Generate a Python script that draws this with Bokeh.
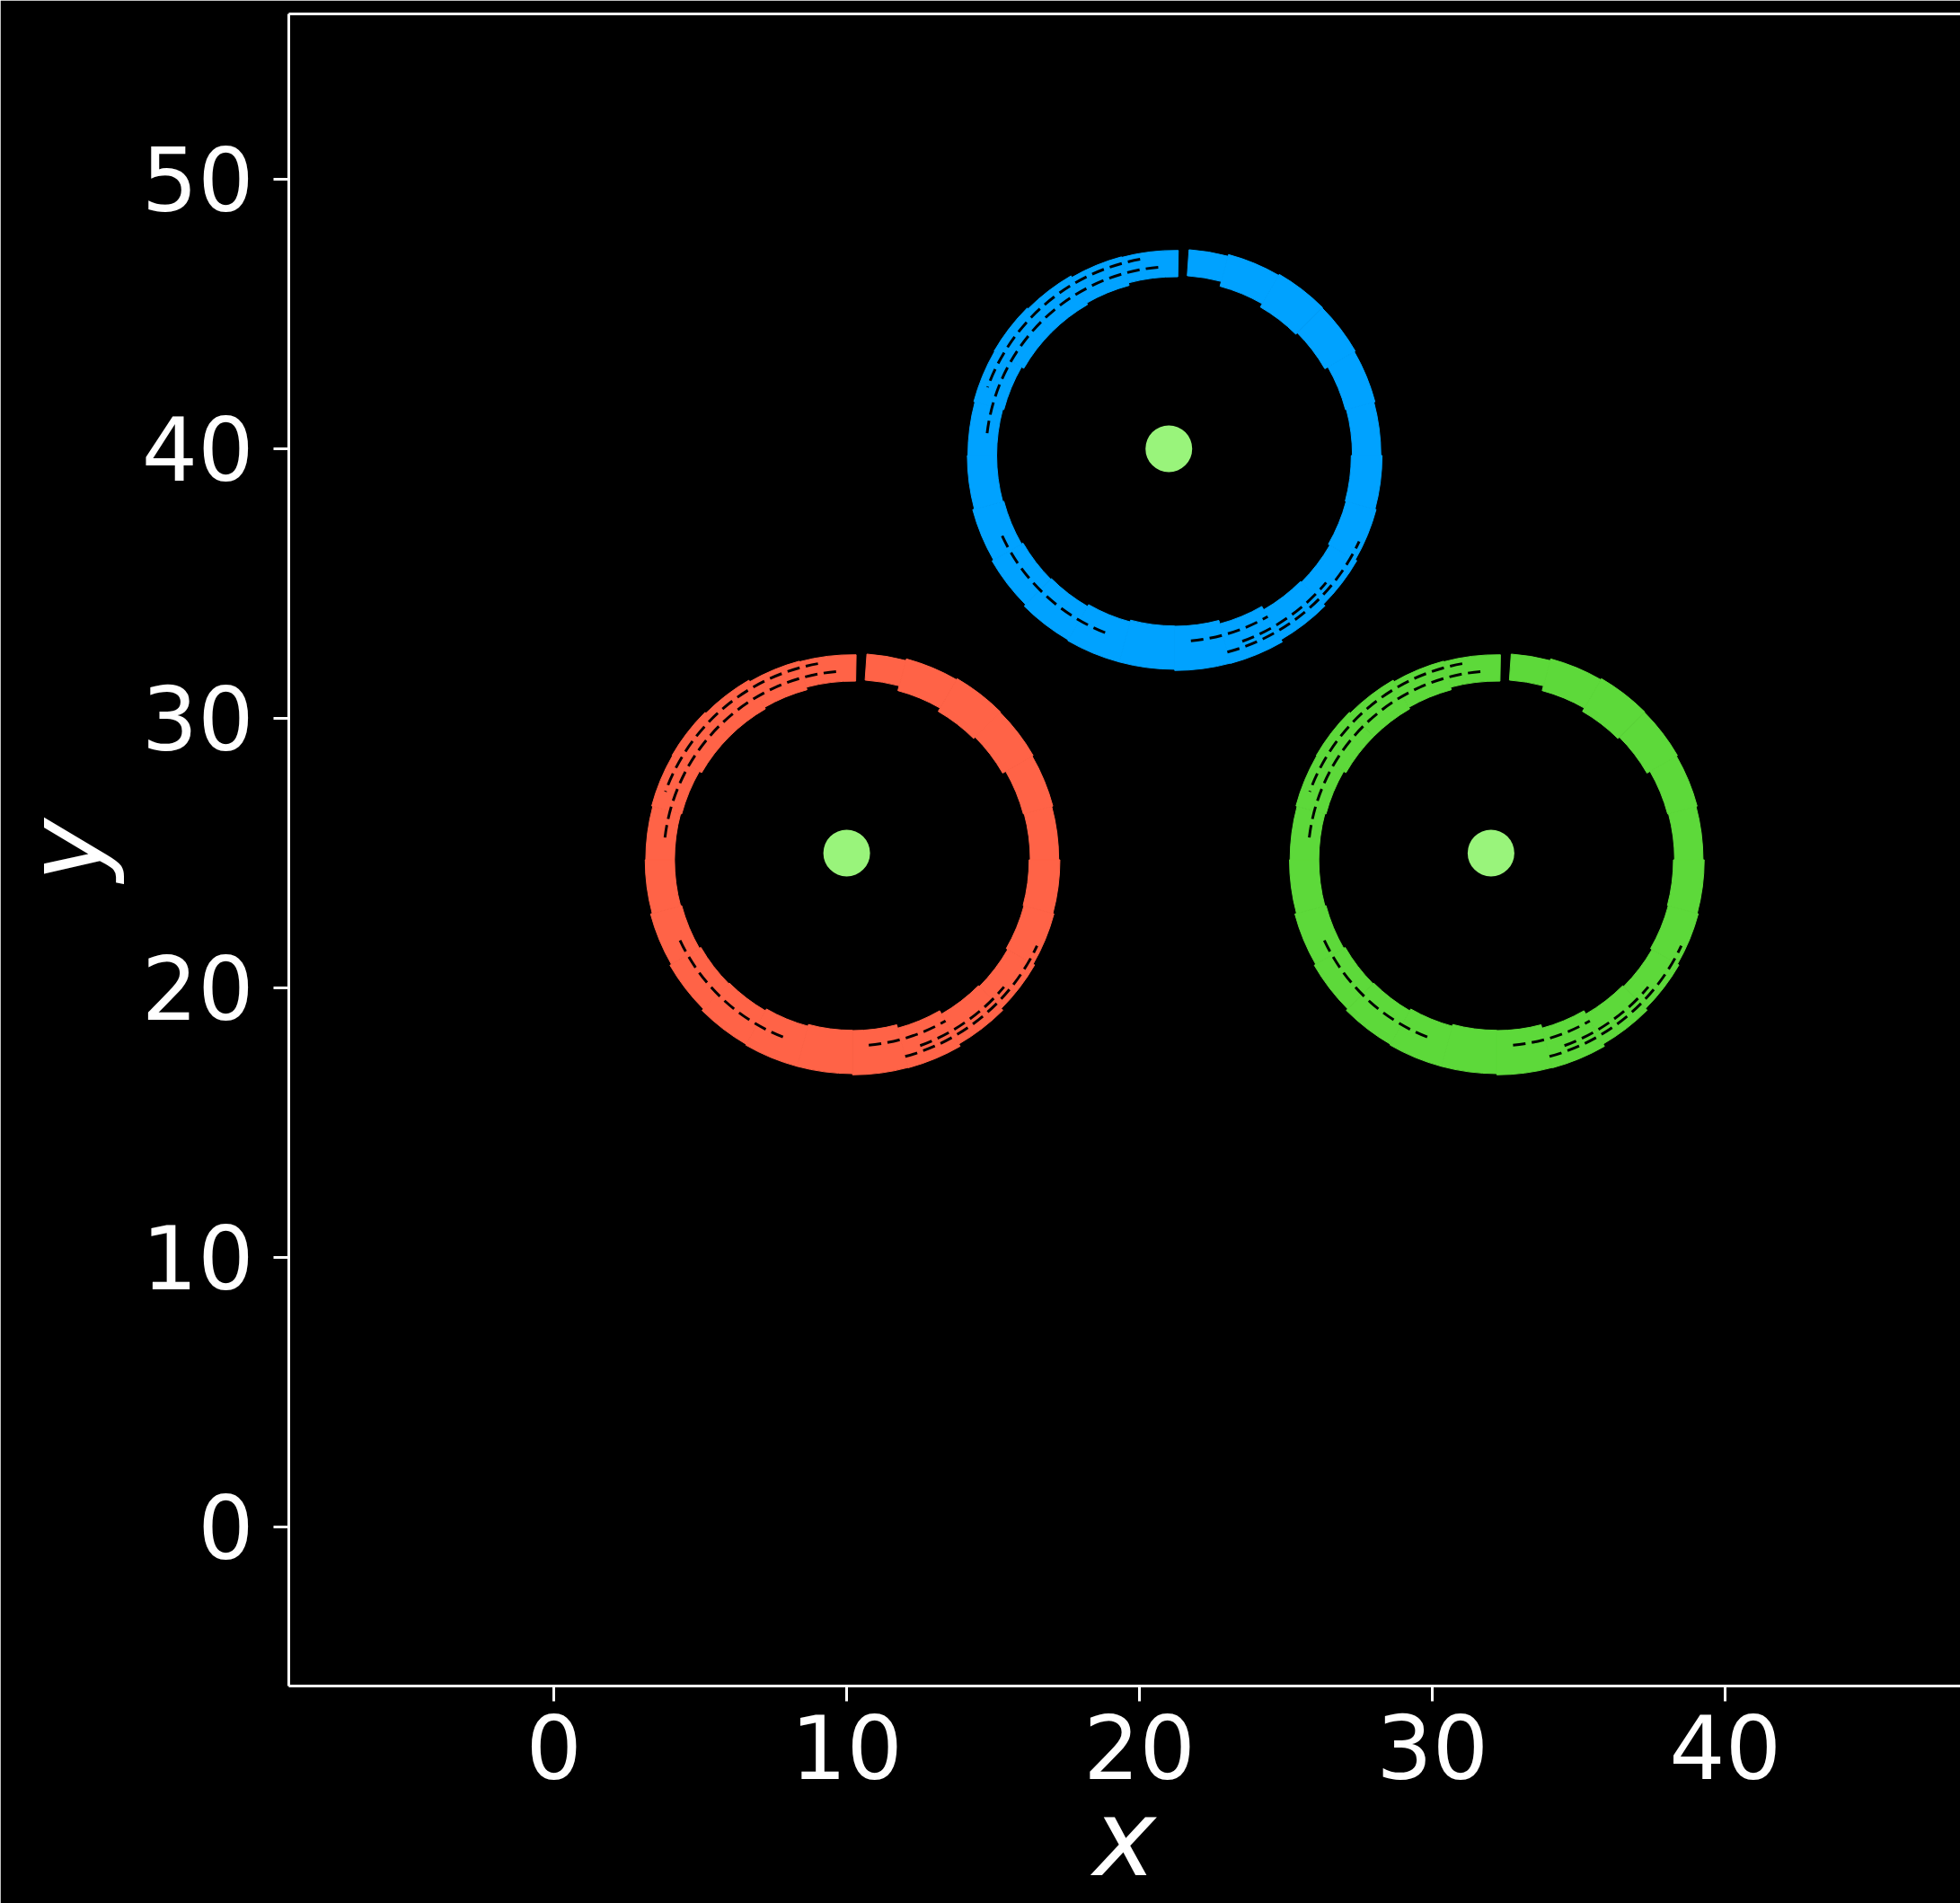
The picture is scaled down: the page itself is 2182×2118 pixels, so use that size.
import math
from bokeh.plotting import figure
from bokeh.models import LinearAxis, FixedTicker, Range1d
from bokeh.embed import file_html
from bokeh.resources import INLINE

# ---- data ----
centers_x = [10, 32, 21]          # centre particles (x)
centers_y = [25, 25, 40]          # centre particles (y)
ring_colors = ["#FF6347", "#5DD93A", "#00A2FF"]
dot_color = "#99F47B"

# ring centre offset relative to the centre particle (data units)
ring_dx = 0.2
ring_dy = -0.25

# angular segments of the ring (degrees) with inner / outer radius (data units)
seg_start = [0, 15, 30, 45, 60, 75, 89, 105, 120, 135, 150, 165,
             180, 195, 210, 225, 240, 255, 270, 285, 300, 315, 330, 345]
seg_end = [15, 30, 45, 60, 75, 86, 105, 120, 135, 150, 165, 180,
           195, 210, 225, 240, 255, 270, 285, 300, 315, 330, 345, 360]
seg_r_in = [6.07, 6.04, 5.92, 5.85, 5.98, 6.15, 6.10, 6.01, 5.95, 5.95, 6.04, 6.08,
            6.08, 6.04, 5.98, 5.95, 5.88, 5.82, 5.83, 5.95, 6.08, 6.12, 6.06, 6.03]
seg_r_out = [7.04, 7.08, 7.12, 7.14, 7.10, 7.04, 7.00, 7.02, 7.08, 7.12, 7.10, 7.06,
             7.08, 7.14, 7.20, 7.27, 7.30, 7.30, 7.34, 7.35, 7.26, 7.18, 7.12, 7.08]

# dark strands (gaps) inside the ring: radius, start, end (degrees)
gap_r = [6.45, 6.80, 6.95, 6.50, 6.35, 6.75]
gap_start = [95, 100, 285, 205, 275, 290]
gap_end = [175, 160, 335, 250, 300, 320]

x_ticks = [0, 10, 20, 30, 40]
y_ticks = [0, 10, 20, 30, 40, 50]

p = figure(width=2182, height=2118, output_backend="svg", toolbar_location=None,
           x_range=Range1d(-9.05, 48.03), y_range=Range1d(-5.9, 56.13),
           min_border_left=321, min_border_right=0, min_border_top=15,
           min_border_bottom=242)
p.background_fill_color = "black"
p.border_fill_color = "black"
p.outline_line_color = None
p.grid.visible = False

for cx, cy, col in zip(centers_x, centers_y, ring_colors):
    n = len(seg_start)
    p.annular_wedge(x=[cx + ring_dx] * n, y=[cy + ring_dy] * n,
                    inner_radius=seg_r_in, outer_radius=seg_r_out,
                    start_angle=[math.radians(a) for a in seg_start],
                    end_angle=[math.radians(a) for a in seg_end],
                    fill_color=col, line_color=col, line_width=1)
    m = len(gap_r)
    p.arc(x=[cx + ring_dx] * m, y=[cy + ring_dy] * m, radius=gap_r,
          start_angle=[math.radians(a) for a in gap_start],
          end_angle=[math.radians(a) for a in gap_end],
          line_color="black", line_width=3, line_dash="14 7")

p.scatter(x=centers_x, y=centers_y, size=52, fill_color=dot_color,
          line_color=dot_color, line_width=0)

for ax in (p.xaxis[0], p.yaxis[0]):
    ax.axis_line_color = "white"
    ax.axis_line_width = 3
    ax.major_tick_line_color = "white"
    ax.major_tick_line_width = 3
    ax.major_tick_out = 17
    ax.major_tick_in = 0
    ax.minor_tick_line_color = None
    ax.major_label_text_color = "white"
    ax.major_label_text_font = "DejaVu Sans"
    ax.major_label_text_font_size = "98px"
    ax.axis_label_text_color = "white"
    ax.axis_label_text_font = "DejaVu Sans"
    ax.axis_label_text_font_size = "118px"
    ax.axis_label_text_font_style = "italic"

p.xaxis[0].ticker = FixedTicker(ticks=x_ticks)
p.yaxis[0].ticker = FixedTicker(ticks=y_ticks)
p.xaxis[0].axis_label = "x"
p.yaxis[0].axis_label = "y"
p.xaxis[0].major_label_standoff = 14
p.xaxis[0].axis_label_standoff = -6
p.yaxis[0].major_label_standoff = 22
p.yaxis[0].axis_label_standoff = 13

top = LinearAxis(ticker=FixedTicker(ticks=[]), axis_line_color="white",
                 axis_line_width=3, major_tick_out=0, major_tick_in=0,
                 minor_tick_line_color=None, major_label_text_font_size="0px")
p.add_layout(top, "above")

open("out.html", "w").write(file_html(p, INLINE))
